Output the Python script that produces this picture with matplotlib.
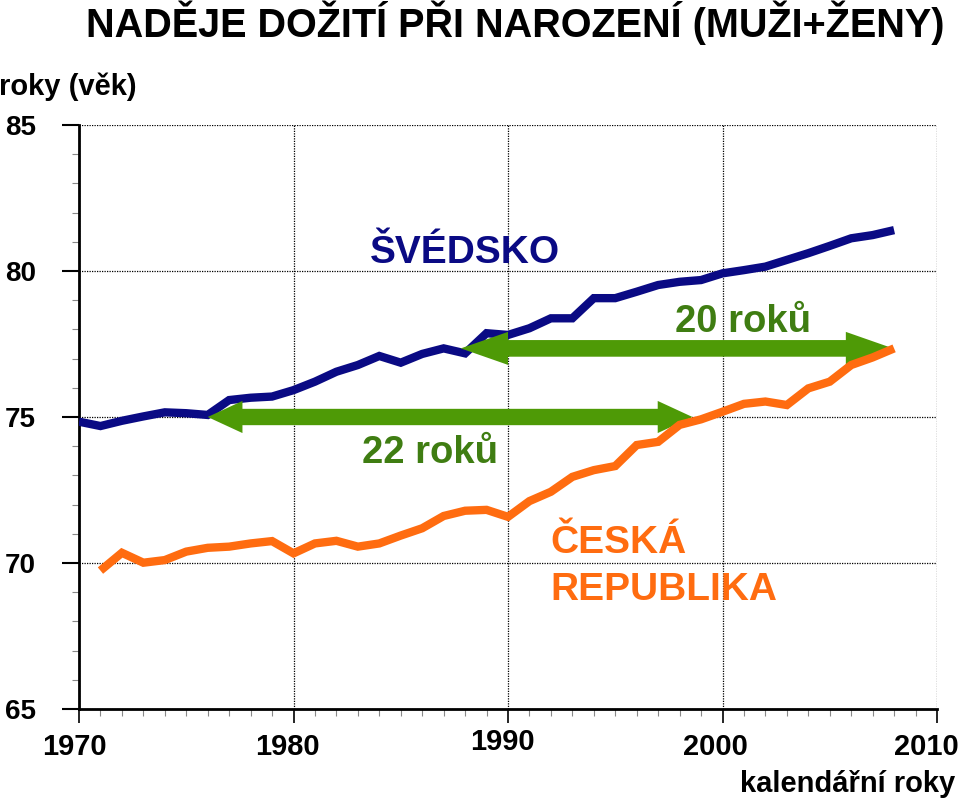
import matplotlib
matplotlib.use("Agg")
import matplotlib.pyplot as plt
from matplotlib.patches import Polygon
from matplotlib.ticker import MultipleLocator, FixedLocator
from matplotlib.transforms import ScaledTranslation

plt.rcParams['font.family'] = ['Liberation Sans', 'DejaVu Sans']

# ---------------- data ----------------
years_se = list(range(1970, 2009))
sweden = [74.84, 74.69, 74.87, 75.02, 75.16, 75.13, 75.07, 75.58, 75.66, 75.70,
          75.92, 76.21, 76.55, 76.78, 77.09, 76.86, 77.16, 77.35, 77.18, 77.87,
          77.81, 78.04, 78.38, 78.38, 79.07, 79.07, 79.29, 79.52, 79.63, 79.69,
          79.92, 80.03, 80.15, 80.38, 80.61, 80.86, 81.12, 81.23, 81.40]

years_cz = list(range(1971, 2009))
czech = [69.74, 70.35, 70.01, 70.10, 70.39, 70.52, 70.56, 70.67, 70.75,
         70.33, 70.67, 70.76, 70.56, 70.67, 70.94, 71.19, 71.61, 71.79, 71.82,
         71.58, 72.12, 72.44, 72.95, 73.18, 73.32, 74.04, 74.15, 74.73, 74.92,
         75.18, 75.45, 75.53, 75.41, 75.98, 76.21, 76.78, 77.04, 77.35]

# gap arrows: (start year, end year, level)
arrow_upper = (1987.8, 2007.95, 77.35)
arrow_lower = (1976.0, 1998.6, 75.0)

x_ticks = [1970, 1980, 1990, 2000, 2010]
y_ticks = [65, 70, 75, 80, 85]

title = "NADĚJE DOŽITÍ PŘI NAROZENÍ (MUŽI+ŽENY)"
ylabel = "roky (věk)"
xlabel = "kalendářní roky"

NAVY = '#0A0A84'
ORANGE = '#FF6C10'
GREEN = '#4E9A06'
GREEN_TXT = '#3F7D12'

# ---------------- figure ----------------
W, H = 960, 801
fig = plt.figure(figsize=(W / 100, H / 100), dpi=100)
ax = fig.add_axes([79 / W, 1 - 709 / H, (937 - 79) / W, (709 - 125) / H])

ax.set_xlim(1970, 2010)
ax.set_ylim(65, 85)

ax.plot(years_se, sweden, color=NAVY, lw=6.0, solid_joinstyle='miter',
        solid_capstyle='butt', zorder=3)
ax.plot(years_cz, czech, color=ORANGE, lw=6.0, solid_joinstyle='miter',
        solid_capstyle='butt', zorder=5)


def double_arrow(ax, x0, x1, y, shaft_w, head_w, head_len):
    sw, hw = shaft_w / 2, head_w / 2
    verts = [(x0, y), (x0 + head_len, y + hw), (x0 + head_len, y + sw),
             (x1 - head_len, y + sw), (x1 - head_len, y + hw), (x1, y),
             (x1 - head_len, y - hw), (x1 - head_len, y - sw),
             (x0 + head_len, y - sw), (x0 + head_len, y - hw)]
    ax.add_patch(Polygon(verts, closed=True, facecolor=GREEN, edgecolor='none',
                         zorder=4))


double_arrow(ax, *arrow_upper, shaft_w=0.57, head_w=1.13, head_len=2.2)
double_arrow(ax, *arrow_lower, shaft_w=0.56, head_w=1.10, head_len=1.62)

# text labels
ax.text(1983.57, 80.27, "ŠVÉDSKO", color=NAVY, fontsize=28, fontweight='bold',
        ha='left', va='baseline', zorder=6)
ax.text(1997.79, 77.91, "20 roků", color=GREEN_TXT, fontsize=27.5, fontweight='bold',
        ha='left', va='baseline', zorder=6)
ax.text(1983.19, 73.42, "22 roků", color=GREEN_TXT, fontsize=27.5, fontweight='bold',
        ha='left', va='baseline', zorder=6)
ax.text(1991.96, 70.34, "ČESKÁ", color=ORANGE, fontsize=28, fontweight='bold',
        ha='left', va='baseline', zorder=6)
ax.text(1991.96, 68.73, "REPUBLIKA", color=ORANGE, fontsize=28, fontweight='bold',
        ha='left', va='baseline', zorder=6)

# axes styling
ax.xaxis.set_major_locator(FixedLocator(x_ticks))
ax.yaxis.set_major_locator(FixedLocator(y_ticks))
ax.xaxis.set_minor_locator(MultipleLocator(1))
ax.yaxis.set_minor_locator(MultipleLocator(1))
ax.set_xticklabels([str(v) for v in x_ticks])
ax.set_yticklabels([str(v) for v in y_ticks])

for s in ['top', 'right']:
    ax.spines[s].set_visible(False)
for s in ['left', 'bottom']:
    ax.spines[s].set_linewidth(2.0)
    ax.spines[s].set_color('black')

ax.grid(True, which='major', color='black', linestyle=(0, (1, 1)), lw=0.9)
ax.set_axisbelow(True)

ax.tick_params(axis='y', which='major', length=12, width=1.5, direction='out',
               pad=19, labelsize=20)
ax.tick_params(axis='x', which='major', length=10, width=1.2, direction='out',
               pad=7, labelsize=21)
ax.tick_params(axis='both', which='minor', length=5, width=0.8, color='#888888',
               direction='out')
for lab in ax.get_xticklabels() + ax.get_yticklabels():
    lab.set_fontweight('bold')

# x labels sit slightly left of their ticks; 1990 sits a little higher
x_offsets = [(-5, 0), (-6, 0), (-6, 5), (-7, 0), (-11, 0)]
for tick, (dx, dy) in zip(ax.xaxis.get_major_ticks(), x_offsets):
    tick.label1.set_transform(tick.label1.get_transform() +
                              ScaledTranslation(dx / 100, dy / 100, fig.dpi_scale_trans))

fig.text(515 / W, 1 - 37 / H, title, fontsize=28.5, fontweight='bold',
         ha='center', va='baseline')
fig.text(-1 / W, 1 - 95 / H, ylabel, fontsize=21, fontweight='bold',
         ha='left', va='baseline')
fig.text(955 / W, 1 - 792 / H, xlabel, fontsize=21, fontweight='bold',
         ha='right', va='baseline')

fig.savefig("out.png", dpi=100)
